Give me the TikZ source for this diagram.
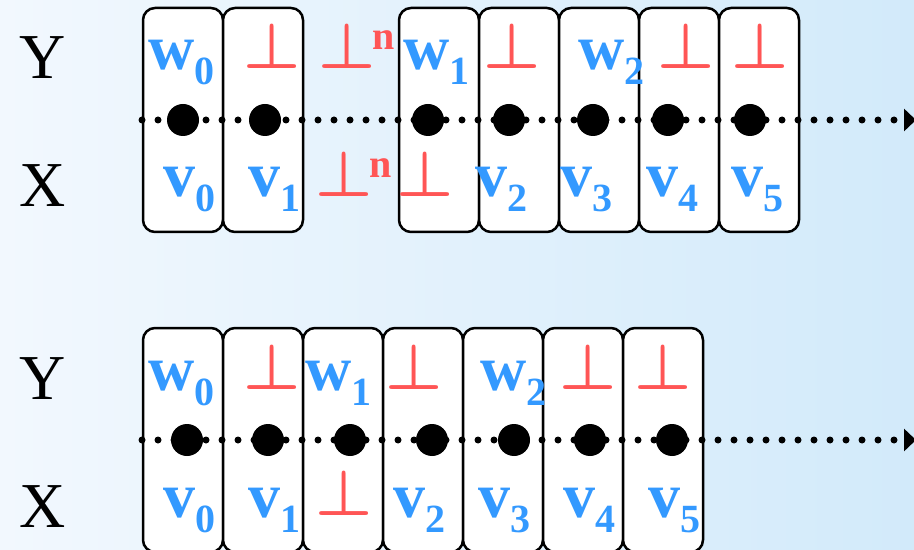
\documentclass[tikz,border=0pt]{standalone}
\usepackage{fix-cm}
\usepackage{amsmath}
\usepackage{fontspec}
\setmainfont{Liberation Serif}
\usepackage{tikz}
\usetikzlibrary{arrows.meta, positioning}
\definecolor{vblue}{RGB}{51,153,255}
\definecolor{nilred}{RGB}{255,85,85}
\definecolor{bgleft}{RGB}{242,248,254}
\definecolor{bgright}{RGB}{210,234,250}
\newcommand{\idx}[2]{#1\raisebox{-7.5pt}{\fontsize{20pt}{20pt}\selectfont #2}}
\newcommand{\nilsym}{$\boldsymbol{\bot}$}
\newcommand{\nilpow}{\nilsym\kern-1.5pt\raisebox{9.5pt}{\fontsize{20pt}{20pt}\selectfont n}}

\begin{document}
\begin{tikzpicture}[
    x=0.5pt, y=-0.5pt,
    node distance=0pt,
    cell/.style={rectangle, draw, line width=1.25pt, rounded corners=6pt, fill=white, minimum width=40pt, minimum height=112pt, inner sep=0pt, outer sep=0pt},
    lab/.style={inner sep=0pt, anchor=base west, font=\fontsize{32pt}{32pt}\selectfont\bfseries},
    val/.style={lab, text=vblue},
    nil/.style={lab, text=nilred},
    rowname/.style={inner sep=0pt, anchor=base west, font=\fontsize{32pt}{32pt}\selectfont},
    bead/.style={circle, fill=black, minimum size=16pt, inner sep=0pt},
    seq/.style={line width=3.5pt, line cap=round, dash pattern=on 0pt off 8pt, -{Triangle[length=6pt, width=11pt]}}
]
    \useasboundingbox (0,0) rectangle (914,550);
    \shade[left color=bgleft, right color=bgright] (0,0) rectangle (914,550);

    \node[rowname] (ytop) at (19,79) {Y};
    \node[rowname] (xtop) at (19,207) {X};
    \node[rowname] (ybot) at (19,399) {Y};
    \node[rowname] (xbot) at (19,527) {X};

    \node[cell] (t0) at (183,120) {};
    \node[cell, right=of t0] (t1) {};
    \node[cell, right=48pt of t1] (t2) {};
    \node[cell, right=of t2] (t3) {};
    \node[cell, right=of t3] (t4) {};
    \node[cell, right=of t4] (t5) {};
    \node[cell, right=of t5] (t6) {};

    \node[cell] (b0) at (183,440) {};
    \node[cell, right=of b0] (b1) {};
    \node[cell, right=of b1] (b2) {};
    \node[cell, right=of b2] (b3) {};
    \node[cell, right=of b3] (b4) {};
    \node[cell, right=of b4] (b5) {};
    \node[cell, right=of b5] (b6) {};

    \node[val] (tw0) at (148,70) {\idx{w}{0}};
    \node[nil] (tn1) at (243,69) {\nilsym};
    \node[nil] (tgy) at (318,69) {\nilpow};
    \node[val] (tw1) at (403,70) {\idx{w}{1}};
    \node[nil] (tn3) at (483,69) {\nilsym};
    \node[val] (tw2) at (578,70) {\idx{w}{2}};
    \node[nil] (tn5) at (657,69) {\nilsym};
    \node[nil] (tn6) at (731,69) {\nilsym};
    \node[val] (tv0) at (163,197) {\idx{v}{0}};
    \node[val] (tv1) at (248,197) {\idx{v}{1}};
    \node[nil] (tgx) at (315,197) {\nilpow};
    \node[nil] (tn2) at (396,197) {\nilsym};
    \node[val] (tv2) at (475,197) {\idx{v}{2}};
    \node[val] (tv3) at (560,197) {\idx{v}{3}};
    \node[val] (tv4) at (646,197) {\idx{v}{4}};
    \node[val] (tv5) at (731,197) {\idx{v}{5}};

    \node[val] (bw0) at (148,390) {\idx{w}{0}};
    \node[nil] (bn1) at (243,389) {\nilsym};
    \node[val] (bw1) at (305,390) {\idx{w}{1}};
    \node[nil] (bn3) at (385,389) {\nilsym};
    \node[val] (bw2) at (480,390) {\idx{w}{2}};
    \node[nil] (bn5) at (559,389) {\nilsym};
    \node[nil] (bn6) at (634,389) {\nilsym};
    \node[val] (bv0) at (163,517) {\idx{v}{0}};
    \node[val] (bv1) at (248,517) {\idx{v}{1}};
    \node[nil] (bn2) at (315,515) {\nilsym};
    \node[val] (bv2) at (393,517) {\idx{v}{2}};
    \node[val] (bv3) at (478,517) {\idx{v}{3}};
    \node[val] (bv4) at (563,517) {\idx{v}{4}};
    \node[val] (bv5) at (648,517) {\idx{v}{5}};

    \coordinate (ts) at (142,120);
    \coordinate (te) at (916,120);
    \coordinate (bs) at (142,440);
    \coordinate (be) at (916,440);
    \draw[seq] (ts) -- (te);
    \draw[seq] (bs) -- (be);

    \node[bead] (td0) at (183,120) {};
    \node[bead] (td1) at (265,120) {};
    \node[bead] (td2) at (428,120) {};
    \node[bead] (td3) at (509,120) {};
    \node[bead] (td4) at (593,120) {};
    \node[bead] (td5) at (668,120) {};
    \node[bead] (td6) at (750,120) {};

    \node[bead] (bd0) at (187,440) {};
    \node[bead] (bd1) at (268,440) {};
    \node[bead] (bd2) at (350,440) {};
    \node[bead] (bd3) at (432,440) {};
    \node[bead] (bd4) at (514,440) {};
    \node[bead] (bd5) at (590,440) {};
    \node[bead] (bd6) at (672,440) {};
\end{tikzpicture}
\end{document}
